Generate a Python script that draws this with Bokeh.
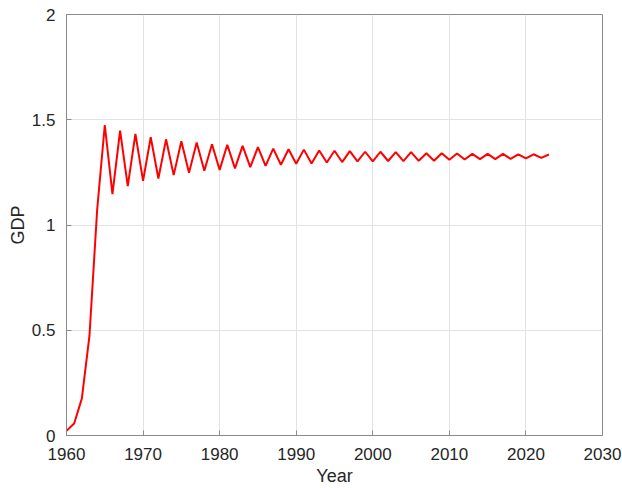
from bokeh.plotting import figure
from bokeh.models import Range1d, FixedTicker, CustomJSTickFormatter
from bokeh.embed import file_html
from bokeh.resources import INLINE

years = list(range(1960, 2024))
gdp = [0.022, 0.057, 0.175, 0.474, 1.07, 1.475, 1.147, 1.448, 1.185, 1.433,
       1.210, 1.417, 1.221, 1.407, 1.237, 1.398, 1.248, 1.392, 1.258, 1.384,
       1.262, 1.381, 1.269, 1.376, 1.275, 1.370, 1.281, 1.363, 1.286, 1.360,
       1.291, 1.358, 1.292, 1.354, 1.297, 1.353, 1.299, 1.351, 1.302, 1.348,
       1.302, 1.348, 1.304, 1.346, 1.303, 1.346, 1.305, 1.341, 1.305, 1.341,
       1.310, 1.340, 1.311, 1.338, 1.313, 1.338, 1.313, 1.338, 1.314, 1.336,
       1.316, 1.336, 1.319, 1.335]
x_ticks = [1960, 1970, 1980, 1990, 2000, 2010, 2020, 2030]
y_ticks = [0, 0.5, 1, 1.5, 2]

FONT = "Liberation Sans"
AX = "#8a8a8a"
TXT = "#262626"

p = figure(width=622, height=488, output_backend="svg", toolbar_location=None,
           x_range=Range1d(1960, 2030), y_range=Range1d(0, 2),
           min_border_left=66, min_border_right=20, min_border_top=14,
           min_border_bottom=52)
p.background_fill_color = "white"
p.border_fill_color = "white"
p.outline_line_color = AX
p.outline_line_width = 1

p.line(years, gdp, line_color="#ff0000", line_width=2)

fmt = CustomJSTickFormatter(code="return String(tick);")
for ax, ticks in ((p.xaxis[0], x_ticks), (p.yaxis[0], y_ticks)):
    ax.ticker = FixedTicker(ticks=ticks)
    ax.formatter = fmt
    ax.axis_line_color = AX
    ax.major_tick_line_color = AX
    ax.major_tick_in = 5
    ax.major_tick_out = 0
    ax.minor_tick_line_color = None
    ax.major_label_text_font = FONT
    ax.major_label_text_font_size = "17px"
    ax.major_label_text_color = TXT
    ax.axis_label_text_font = FONT
    ax.axis_label_text_font_size = "18px"
    ax.axis_label_text_font_style = "normal"
    ax.axis_label_text_color = TXT

p.xaxis.axis_label = "Year"
p.yaxis.axis_label = "GDP"
p.xaxis.major_label_standoff = 12
p.xaxis.axis_label_standoff = 3
p.yaxis.major_label_standoff = 11
p.yaxis.axis_label_standoff = 1

p.grid.grid_line_color = "#e3e3e3"
p.grid.grid_line_width = 1

open("out.html", "w").write(file_html(p, INLINE))
